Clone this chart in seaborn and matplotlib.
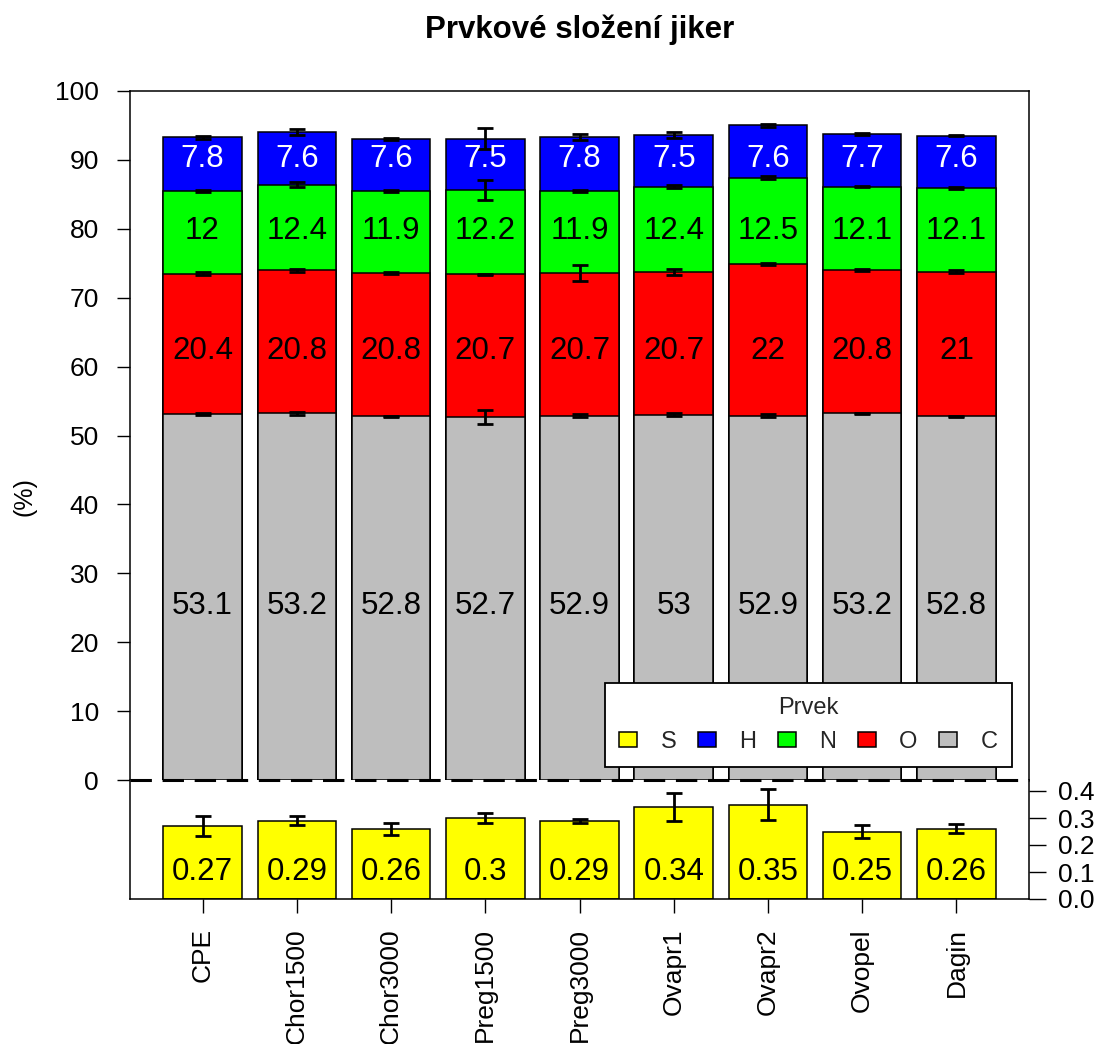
import matplotlib
matplotlib.use("Agg")
import matplotlib.pyplot as plt
from matplotlib.patches import Patch
from matplotlib.lines import Line2D
import numpy as np
import pandas as pd
import seaborn as sns

# Elemental composition of roe samples (%), mean and standard deviation
samples = ["CPE", "Chor1500", "Chor3000", "Preg1500", "Preg3000",
           "Ovapr1", "Ovapr2", "Ovopel", "Dagin"]
C = [53.1, 53.2, 52.8, 52.7, 52.9, 53.0, 52.9, 53.2, 52.8]
O = [20.4, 20.8, 20.8, 20.7, 20.7, 20.7, 22.0, 20.8, 21.0]
N = [12.0, 12.4, 11.9, 12.2, 11.9, 12.4, 12.5, 12.1, 12.1]
H = [7.8, 7.6, 7.6, 7.5, 7.8, 7.5, 7.6, 7.7, 7.6]
S = [0.27, 0.29, 0.26, 0.30, 0.29, 0.34, 0.35, 0.25, 0.26]

C_sd = [0.10, 0.25, 0.05, 1.00, 0.15, 0.20, 0.20, 0.10, 0.10]
O_sd = [0.20, 0.20, 0.10, 0.10, 1.20, 0.45, 0.15, 0.15, 0.15]
N_sd = [0.20, 0.35, 0.15, 1.45, 0.20, 0.25, 0.20, 0.10, 0.15]
H_sd = [0.20, 0.45, 0.15, 1.55, 0.40, 0.40, 0.25, 0.15, 0.10]
S_sd = [0.038, 0.017, 0.023, 0.017, 0.007, 0.052, 0.056, 0.023, 0.017]

elements = ["S", "H", "N", "O", "C"]
colors = {"S": "#FFFF00", "H": "#0000FF", "N": "#00FF00",
          "O": "#FF0000", "C": "#BEBEBE"}

# fixed heights of the value labels within each layer
label_y = {"C": 25.2, "O": 62.2, "N": 79.7, "H": 90.2}
label_y_S = 0.1

sns.set_theme(style="white")
plt.rcParams["font.family"] = ["Liberation Sans", "DejaVu Sans"]

W, H_px = 1099, 1044
fig = plt.figure(figsize=(W / 100, H_px / 100), dpi=100)

def fx(px):
    return px / W

def fy(py):
    return 1 - py / H_px

ax_top = fig.add_axes([fx(130), fy(780), fx(1029) - fx(130), fy(91) - fy(780)])
ax_bot = fig.add_axes([fx(130), fy(899), fx(1029) - fx(130), fy(780) - fy(899)])

df = pd.DataFrame({"sample": samples, "C": C, "O": O, "N": N, "H": H, "S": S})
df["cO"] = df["C"] + df["O"]
df["cN"] = df["cO"] + df["N"]
df["cH"] = df["cN"] + df["H"]

xpos = np.arange(len(samples))
bar_w = 1 / 1.2
edge_lw = 1.1

# stacked bars drawn as overlapping cumulative totals, tallest first
for col, el in [("cH", "H"), ("cN", "N"), ("cO", "O"), ("C", "C")]:
    sns.barplot(data=df, x="sample", y=col, order=samples, color=colors[el],
                saturation=1, edgecolor="black", linewidth=edge_lw,
                width=bar_w, errorbar=None, ax=ax_top)

for top, sd in [("C", C_sd), ("cO", O_sd), ("cN", N_sd), ("cH", H_sd)]:
    ax_top.errorbar(xpos, df[top], yerr=sd, fmt="none", ecolor="black",
                    elinewidth=2, capsize=6, capthick=2, zorder=5)

label_fs = 22.5
for i in range(len(samples)):
    for el, vals, col in [("C", C, "black"), ("O", O, "black"),
                          ("N", N, "black"), ("H", H, "white")]:
        ax_top.text(i, label_y[el], f"{vals[i]:g}", ha="center", va="center",
                    fontsize=label_fs, color=col, zorder=6)

xlim = (-0.77, len(samples) - 1 + 0.77)
ax_top.set_xlim(*xlim)
ax_top.set_ylim(0, 100)
ax_top.set_yticks(range(0, 101, 10))
ax_top.set_xticks([])
ax_top.set_xlabel("")
ax_top.set_ylabel("")
ax_top.tick_params(axis="y", left=True, length=9.4, width=1.0, pad=13,
                   labelsize=19, colors="black")
for side in ["left", "top", "right"]:
    ax_top.spines[side].set_visible(True)
    ax_top.spines[side].set_color("black")
    ax_top.spines[side].set_linewidth(1.1)
ax_top.spines["bottom"].set_visible(False)

# sulphur panel
sns.barplot(data=df, x="sample", y="S", order=samples, color=colors["S"],
            saturation=1, edgecolor="black", linewidth=edge_lw,
            width=bar_w, errorbar=None, ax=ax_bot)
ax_bot.errorbar(xpos, df["S"], yerr=S_sd, fmt="none", ecolor="black",
                elinewidth=2, capsize=6, capthick=2, zorder=5)
for i in range(len(samples)):
    ax_bot.text(i, label_y_S, f"{S[i]:g}", ha="center", va="center",
                fontsize=label_fs, color="black", zorder=6)

ax_bot.set_xlim(*xlim)
ax_bot.set_ylim(0, 119 / 270)
ax_bot.set_xlabel("")
ax_bot.set_ylabel("")
ax_bot.yaxis.tick_right()
ax_bot.set_yticks([0.0, 0.1, 0.2, 0.3, 0.4])
ax_bot.set_yticklabels(["0.0", "0.1", "0.2", "0.3", "0.4"])
ax_bot.tick_params(axis="y", right=True, left=False, length=12, width=1.0,
                   pad=9, labelsize=19, colors="black")
ax_bot.set_xticks(xpos)
ax_bot.set_xticklabels(samples, rotation=90, va="top", ha="center")
ax_bot.tick_params(axis="x", bottom=True, length=10, width=1.0, pad=11,
                   labelsize=19, colors="black")
for side in ["left", "bottom", "right"]:
    ax_bot.spines[side].set_visible(True)
    ax_bot.spines[side].set_color("black")
    ax_bot.spines[side].set_linewidth(1.1)
ax_bot.spines["top"].set_visible(False)

# axis break marker between the two panels
fig.add_artist(Line2D([fx(130), fx(1029)], [fy(780), fy(780)],
                      transform=fig.transFigure, color="black", lw=2.2,
                      ls=(0, (7, 3.5)), zorder=20))

fig.text(fx(580), fy(30), "Prvkové složení jiker", ha="center", va="center",
         fontsize=22.5, fontweight="bold", color="black")
fig.text(fx(25), fy(497), "(%)", ha="center", va="center", rotation=90,
         fontsize=18, color="black")

handles = [Patch(facecolor=colors[e], edgecolor="black", linewidth=1.1)
           for e in elements]
leg = fig.legend(handles, elements, title="Prvek", ncol=5,
                 loc="upper left", bbox_to_anchor=(fx(605), fy(683)),
                 fontsize=17, title_fontsize=17, frameon=True, fancybox=False,
                 edgecolor="black", framealpha=1, handlelength=0.75,
                 handleheight=0.6, handletextpad=1.0, columnspacing=0.92,
                 borderpad=0.6, borderaxespad=0)
leg.get_frame().set_linewidth(1.3)
leg.set_zorder(30)

fig.savefig("out.png", dpi=100)
